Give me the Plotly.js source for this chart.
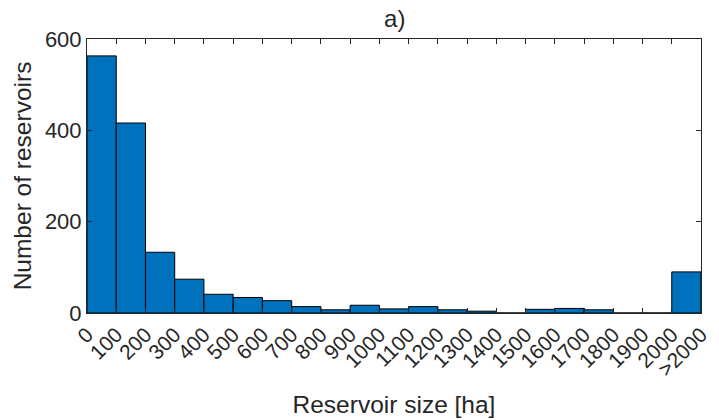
<!DOCTYPE html>
<html>
<head>
<meta charset="utf-8">
<script src="https://cdn.plot.ly/plotly-3.0.1.min.js"></script>
<style>html,body{margin:0;padding:0;background:#fff;}#chart{width:719px;height:420px;}</style>
</head>
<body>
<div id="chart"></div>
<script>
// Bin lower edges (ha), bin width 100; last bin is ">2000"
const binStarts = [0,100,200,300,400,500,600,700,800,900,1000,1100,1200,1300,1400,1500,1600,1700,1800,1900,2000];
const counts = [563,416,133,74,41,34,27,14,7,17,9,14,7,4,0,8,10,7,0,0,90];
const tickValues = [0,100,200,300,400,500,600,700,800,900,1000,1100,1200,1300,1400,1500,1600,1700,1800,1900,2000,2100];
const tickLabels = ["0","100","200","300","400","500","600","700","800","900","1000","1100","1200","1300","1400","1500","1600","1700","1800","1900","2000",">2000"];
const binWidth = 100;

const trace = {
  type: 'bar',
  x: binStarts.map(s => s + binWidth/2),
  y: counts,
  width: binWidth,
  marker: {color: '#0072BD', line: {color: '#000000', width: 1}},
  hoverinfo: 'x+y'
};

const font = {family: 'Liberation Sans, Arial, sans-serif', color: '#262626'};

const layout = {
  width: 719, height: 420,
  margin: {l: 87, r: 18, t: 39, b: 107},
  paper_bgcolor: '#ffffff', plot_bgcolor: '#ffffff',
  showlegend: false,
  bargap: 0,
  font: Object.assign({size: 22}, font),
  title: {text: 'a)', x: 0.549, xanchor: 'center', y: 0.955, yanchor: 'middle', font: Object.assign({size: 24}, font)},
  xaxis: {
    range: [0, 2100],
    tickmode: 'array', tickvals: tickValues, ticktext: tickLabels,
    tickangle: -45,
    ticks: 'inside', ticklen: 5, tickcolor: '#262626', tickwidth: 1,
    showline: true, linecolor: '#262626', linewidth: 1, mirror: 'ticks',
    showgrid: false, zeroline: false,
    tickfont: Object.assign({size: 21}, font),
    title: {text: 'Reservoir size [ha]', font: Object.assign({size: 24.5}, font), standoff: 16},
    automargin: false
  },
  yaxis: {
    range: [0, 600],
    tickvals: [0, 200, 400, 600],
    ticks: 'inside', ticklen: 5, tickcolor: '#262626', tickwidth: 1,
    showline: true, linecolor: '#262626', linewidth: 1, mirror: 'ticks',
    showgrid: false, zeroline: false,
    tickfont: Object.assign({size: 22}, font),
    title: {text: 'Number of reservoirs', font: Object.assign({size: 24.5}, font), standoff: 6},
    automargin: false
  }
};

Plotly.newPlot('chart', [trace], layout, {displayModeBar: false, staticPlot: true});
</script>
</body>
</html>
